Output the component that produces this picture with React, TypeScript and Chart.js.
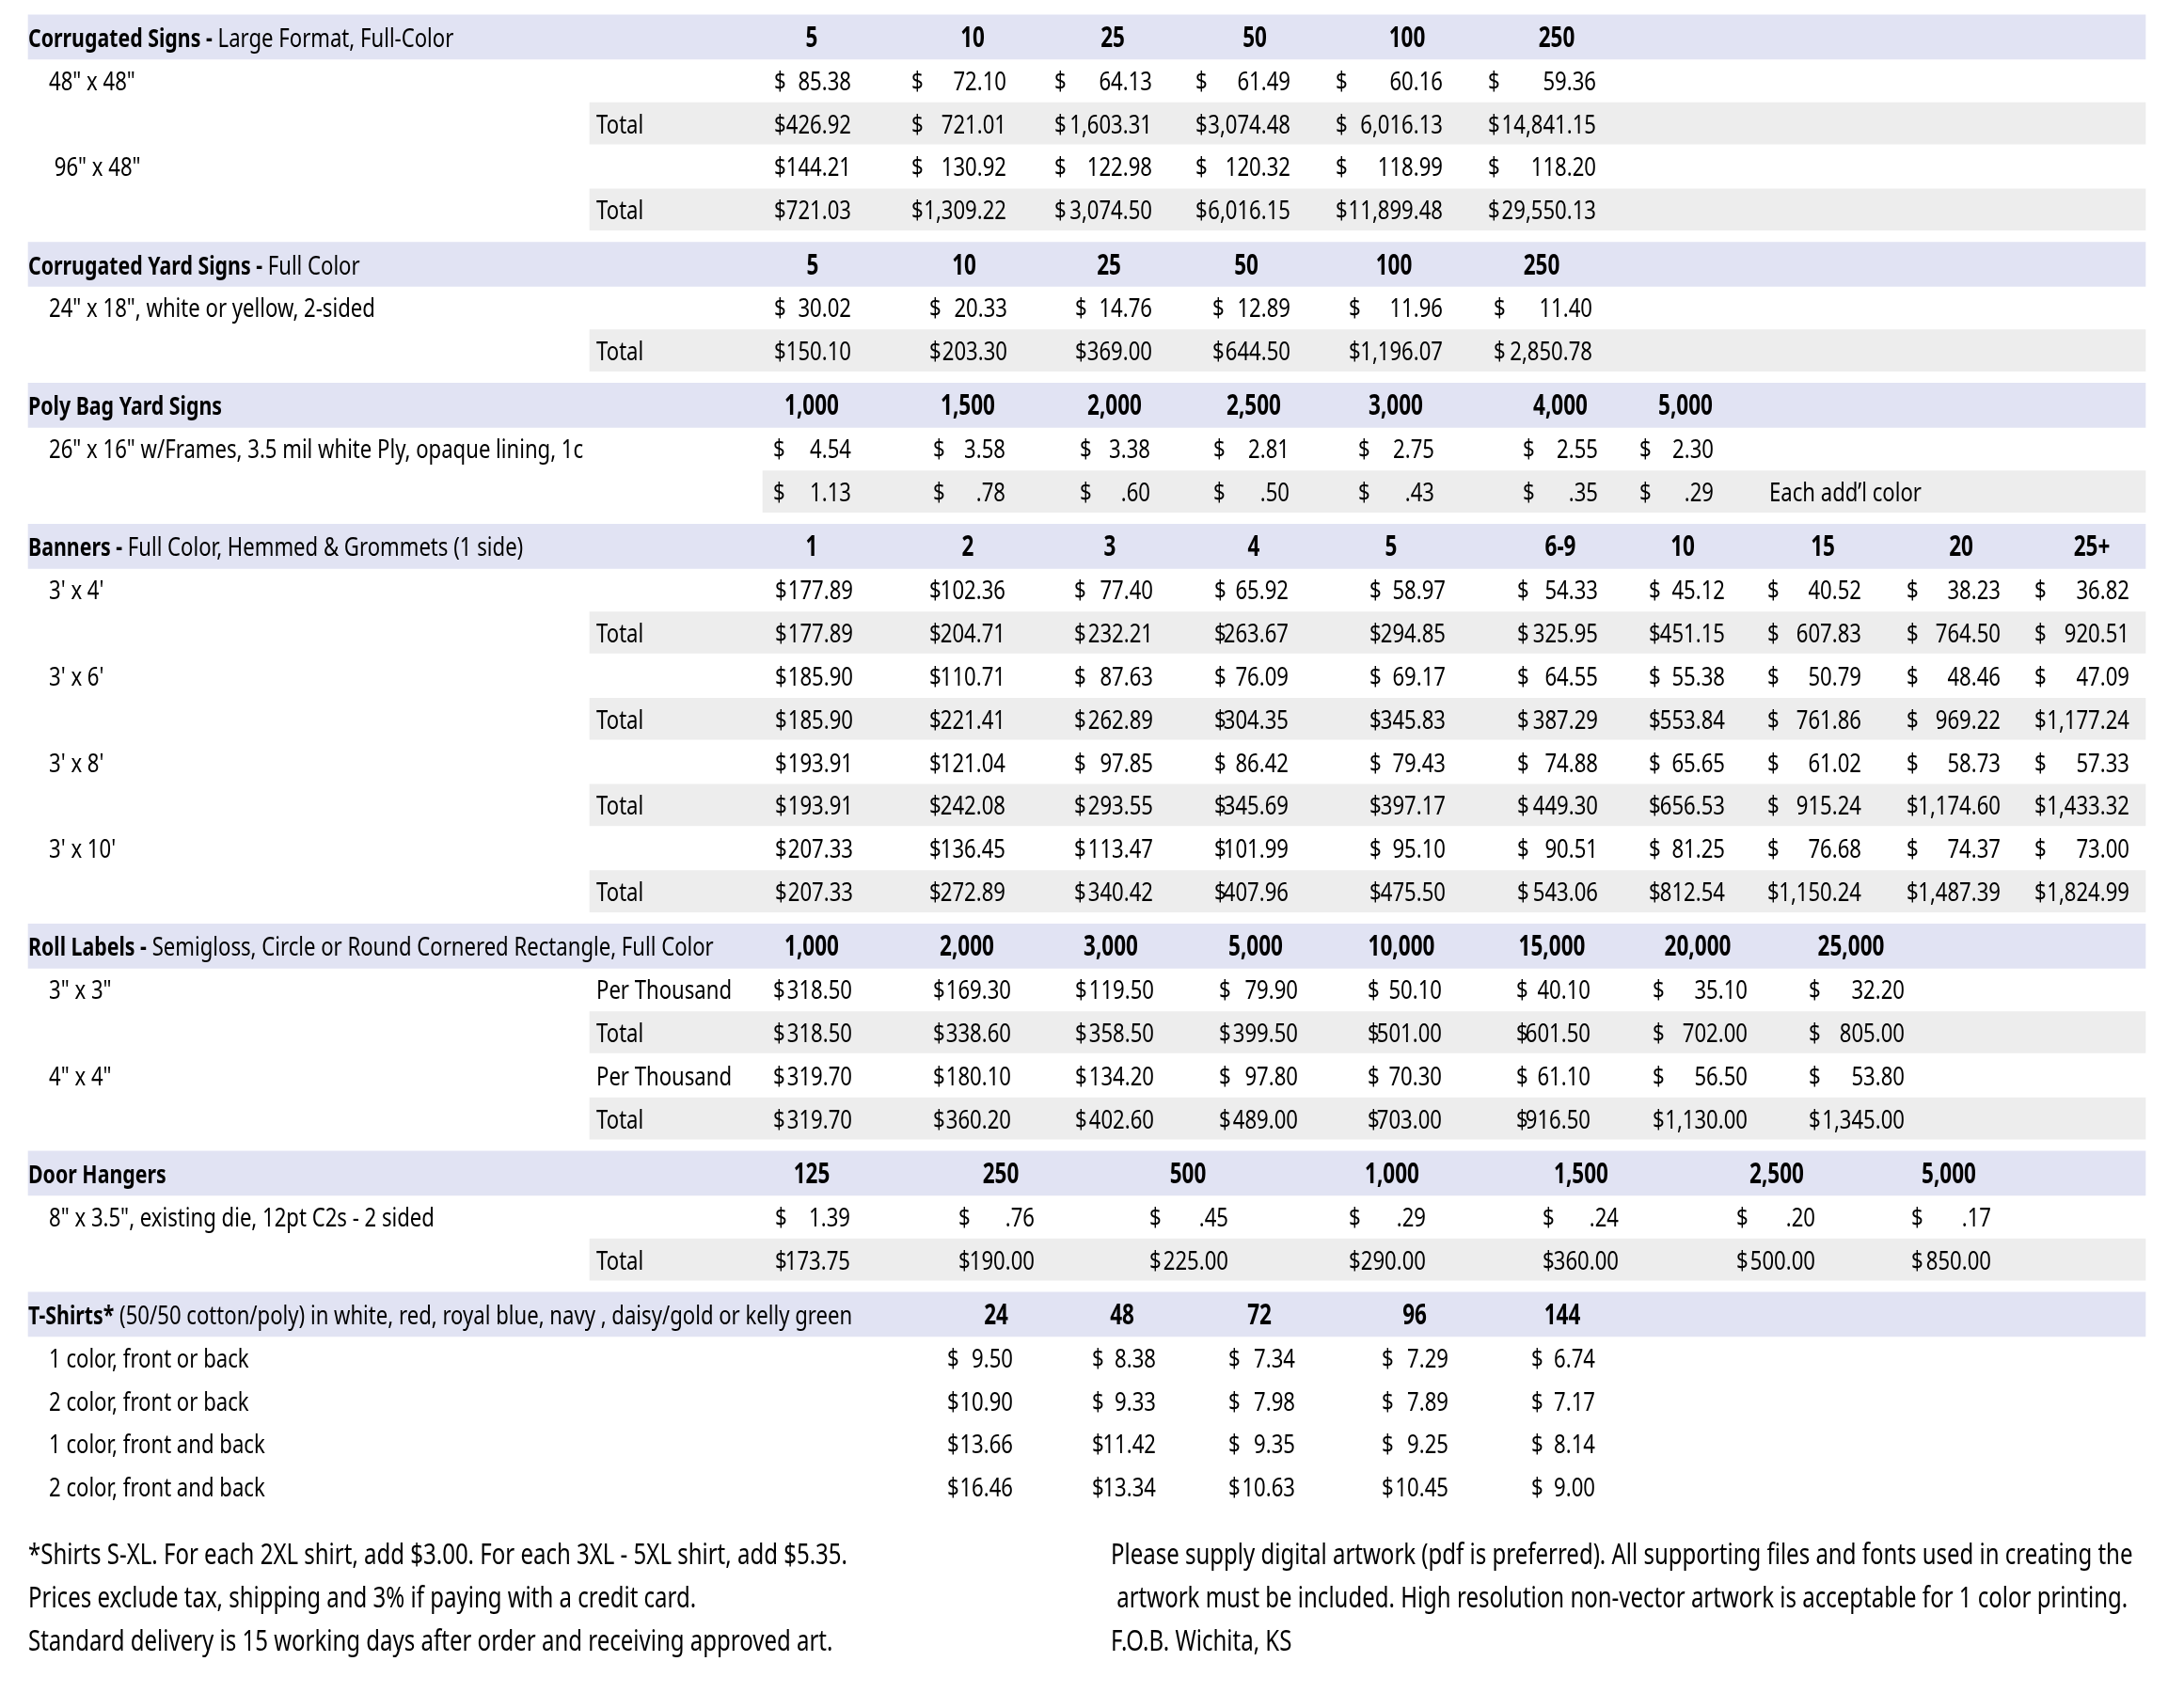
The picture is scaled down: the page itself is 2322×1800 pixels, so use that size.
import React, { useEffect, useRef } from "react";
import { Chart, registerables } from "chart.js";

Chart.register(...registerables);

// ------------------------------------------------------------------ DATA
const corrugatedTitle = ["Corrugated Signs -", " Large Format, Full-Color"];
const corrugatedQty = ["5", "10", "25", "50", "100", "250"];
const corrugated48Each = [85.38, 72.1, 64.13, 61.49, 60.16, 59.36];
const corrugated48Total = [426.92, 721.01, 1603.31, 3074.48, 6016.13, 14841.15];
const corrugated96Each = [144.21, 130.92, 122.98, 120.32, 118.99, 118.2];
const corrugated96Total = [721.03, 1309.22, 3074.5, 6016.15, 11899.48, 29550.13];

const yardTitle = ["Corrugated Yard Signs -", " Full Color"];
const yardQty = ["5", "10", "25", "50", "100", "250"];
const yardEach = [30.02, 20.33, 14.76, 12.89, 11.96, 11.4];
const yardTotal = [150.1, 203.3, 369.0, 644.5, 1196.07, 2850.78];

const polyTitle = ["Poly Bag Yard Signs", ""];
const polyQty = ["1,000", "1,500", "2,000", "2,500", "3,000", "4,000", "5,000"];
const polyEach = [4.54, 3.58, 3.38, 2.81, 2.75, 2.55, 2.3];
const polyAddColor = [1.13, 0.78, 0.6, 0.5, 0.43, 0.35, 0.29];

const bannerTitle = ["Banners -", " Full Color, Hemmed & Grommets (1 side)"];
const bannerQty = ["1", "2", "3", "4", "5", "6-9", "10", "15", "20", "25+"];
const banner3x4Each = [177.89, 102.36, 77.4, 65.92, 58.97, 54.33, 45.12, 40.52, 38.23, 36.82];
const banner3x4Total = [177.89, 204.71, 232.21, 263.67, 294.85, 325.95, 451.15, 607.83, 764.5, 920.51];
const banner3x6Each = [185.9, 110.71, 87.63, 76.09, 69.17, 64.55, 55.38, 50.79, 48.46, 47.09];
const banner3x6Total = [185.9, 221.41, 262.89, 304.35, 345.83, 387.29, 553.84, 761.86, 969.22, 1177.24];
const banner3x8Each = [193.91, 121.04, 97.85, 86.42, 79.43, 74.88, 65.65, 61.02, 58.73, 57.33];
const banner3x8Total = [193.91, 242.08, 293.55, 345.69, 397.17, 449.3, 656.53, 915.24, 1174.6, 1433.32];
const banner3x10Each = [207.33, 136.45, 113.47, 101.99, 95.1, 90.51, 81.25, 76.68, 74.37, 73.0];
const banner3x10Total = [207.33, 272.89, 340.42, 407.96, 475.5, 543.06, 812.54, 1150.24, 1487.39, 1824.99];

const rollTitle = ["Roll Labels -", " Semigloss, Circle or Round Cornered Rectangle, Full Color"];
const rollQty = ["1,000", "2,000", "3,000", "5,000", "10,000", "15,000", "20,000", "25,000"];
const roll3x3PerThousand = [318.5, 169.3, 119.5, 79.9, 50.1, 40.1, 35.1, 32.2];
const roll3x3Total = [318.5, 338.6, 358.5, 399.5, 501.0, 601.5, 702.0, 805.0];
const roll4x4PerThousand = [319.7, 180.1, 134.2, 97.8, 70.3, 61.1, 56.5, 53.8];
const roll4x4Total = [319.7, 360.2, 402.6, 489.0, 703.0, 916.5, 1130.0, 1345.0];

const doorTitle = ["Door Hangers", ""];
const doorQty = ["125", "250", "500", "1,000", "1,500", "2,500", "5,000"];
const doorEach = [1.39, 0.76, 0.45, 0.29, 0.24, 0.2, 0.17];
const doorTotal = [173.75, 190.0, 225.0, 290.0, 360.0, 500.0, 850.0];

const shirtTitle = ["T-Shirts*", " (50/50 cotton/poly) in white, red, royal blue, navy , daisy/gold or kelly green"];
const shirtQty = ["24", "48", "72", "96", "144"];
const shirt1ColorFrontOrBack = [9.5, 8.38, 7.34, 7.29, 6.74];
const shirt2ColorFrontOrBack = [10.9, 9.33, 7.98, 7.89, 7.17];
const shirt1ColorFrontAndBack = [13.66, 11.42, 9.35, 9.25, 8.14];
const shirt2ColorFrontAndBack = [16.46, 13.34, 10.63, 10.45, 9.0];

const footerLeft = [
  "*Shirts S-XL. For each 2XL shirt, add $3.00. For each 3XL - 5XL shirt, add $5.35.",
  "Prices exclude tax, shipping and 3% if paying with a credit card.",
  "Standard delivery is 15 working days after order and receiving approved art.",
];
const footerRight = [
  "Please supply digital artwork (pdf is preferred). All supporting files and fonts used in creating the",
  " artwork must be included. High resolution non-vector artwork is acceptable for 1 color printing.",
  "F.O.B. Wichita, KS",
];

// ------------------------------------------------------------------ LAYOUT
const W = 2322;
const H = 1800;
const TOP = 16.5; // top of first header band (px)
const ROW = 45.84; // row pitch (px)
const GAP = 12.4; // gap between sections (px)
const FOOTER_GAP = 0.577; // in rows
const SX = 0.79; // horizontal condensing of the type
const SX_QTY = 0.75;
const SX_FOOT = 0.8;
const FONT = "'Noto Sans', 'Open Sans', sans-serif";
const F_REG = `28px ${FONT}`;
const F_BOLD = `bold 27px ${FONT}`;
const F_QTY = `bold 30px ${FONT}`;
const F_FOOT = `30px ${FONT}`;
const BASE_OFF = 10.5;
const HEADER_BG = "#E1E3F3";
const TOTAL_BG = "#EDEDED";
const BAND_LEFT = 30;
const BAND_RIGHT = 2281;
const TOTAL_LEFT = 627;
const TITLE_X = 30;
const LABEL_X = 52;
const SUB_X = 634;
const FOOT_L_X = 30;
const FOOT_R_X = 1181;

// columns: [dollar x, right x, header centre x]
const COLS_CORR = [[823, 905, 863], [969, 1070, 1034], [1121, 1225, 1183], [1271, 1372, 1334], [1420, 1534, 1496], [1582, 1697, 1655]];
const COLS_YARD = [[823, 905, 864], [988, 1071, 1025], [1143, 1225, 1179], [1289, 1372, 1325], [1434, 1534, 1482], [1588, 1693, 1639]];
const COLS_POLY = [[822, 905, 863], [992, 1069, 1029], [1148, 1223, 1185], [1290, 1371, 1333], [1444, 1525, 1484], [1619, 1699, 1659], [1743, 1822, 1792]];
const COLS_BANNER = [[824, 907, 863], [988, 1069, 1029], [1142, 1226, 1180], [1291, 1370, 1333], [1456, 1537, 1479], [1613, 1699, 1659], [1753, 1834, 1789], [1879, 1979, 1938], [2027, 2127, 2085], [2163, 2264, 2224]];
const COLS_ROLL = [[822, 906, 863], [992, 1075, 1028], [1143, 1227, 1181], [1296, 1380, 1335], [1454, 1533, 1490], [1612, 1691, 1650], [1757, 1858, 1805], [1923, 2025, 1968]];
const COLS_DOOR = [[824, 904, 863], [1019, 1100, 1064], [1222, 1306, 1263], [1434, 1516, 1480], [1640, 1721, 1681], [1846, 1930, 1889], [2032, 2117, 2072]];
const COLS_SHIRT = [[1007, 1077, 1059], [1161, 1229, 1193], [1306, 1377, 1339], [1469, 1540, 1504], [1628, 1696, 1661]];
const NOTE_X = 1881;
const POLY_BAND_LEFT = 811;

type Row = { label?: string; sub?: string; values: number[]; band?: "total" | "value"; note?: string };
type Section = { title: string[]; qty: string[]; cols: number[][]; rows: Row[] };

const sections: Section[] = [
  {
    title: corrugatedTitle, qty: corrugatedQty, cols: COLS_CORR,
    rows: [
      { label: '48" x 48"', values: corrugated48Each },
      { sub: "Total", values: corrugated48Total, band: "total" },
      { label: ' 96" x 48"', values: corrugated96Each },
      { sub: "Total", values: corrugated96Total, band: "total" },
    ],
  },
  {
    title: yardTitle, qty: yardQty, cols: COLS_YARD,
    rows: [
      { label: '24" x 18", white or yellow, 2-sided', values: yardEach },
      { sub: "Total", values: yardTotal, band: "total" },
    ],
  },
  {
    title: polyTitle, qty: polyQty, cols: COLS_POLY,
    rows: [
      { label: '26" x 16" w/Frames, 3.5 mil white Ply, opaque lining, 1c', values: polyEach },
      { values: polyAddColor, band: "value", note: "Each add\u2019l color" },
    ],
  },
  {
    title: bannerTitle, qty: bannerQty, cols: COLS_BANNER,
    rows: [
      { label: "3' x 4'", values: banner3x4Each },
      { sub: "Total", values: banner3x4Total, band: "total" },
      { label: "3' x 6'", values: banner3x6Each },
      { sub: "Total", values: banner3x6Total, band: "total" },
      { label: "3' x 8'", values: banner3x8Each },
      { sub: "Total", values: banner3x8Total, band: "total" },
      { label: "3' x 10'", values: banner3x10Each },
      { sub: "Total", values: banner3x10Total, band: "total" },
    ],
  },
  {
    title: rollTitle, qty: rollQty, cols: COLS_ROLL,
    rows: [
      { label: '3" x 3"', sub: "Per Thousand", values: roll3x3PerThousand },
      { sub: "Total", values: roll3x3Total, band: "total" },
      { label: '4" x 4"', sub: "Per Thousand", values: roll4x4PerThousand },
      { sub: "Total", values: roll4x4Total, band: "total" },
    ],
  },
  {
    title: doorTitle, qty: doorQty, cols: COLS_DOOR,
    rows: [
      { label: '8" x 3.5", existing die, 12pt C2s - 2 sided', values: doorEach },
      { sub: "Total", values: doorTotal, band: "total" },
    ],
  },
  {
    title: shirtTitle, qty: shirtQty, cols: COLS_SHIRT,
    rows: [
      { label: "1 color, front or back", values: shirt1ColorFrontOrBack },
      { label: "2 color, front or back", values: shirt2ColorFrontOrBack },
      { label: "1 color, front and back", values: shirt1ColorFrontAndBack },
      { label: "2 color, front and back", values: shirt2ColorFrontAndBack },
    ],
  },
];

// row index -> value on the y scale (one unit per table row)
const GU = GAP / ROW;
type Placed = { v: number; kind: "header" | "row"; s: Section; row?: Row };
const placed: Placed[] = [];
let rowCount = 0;
sections.forEach((s, si) => {
  placed.push({ v: rowCount + 0.5 + si * GU, kind: "header", s });
  rowCount++;
  s.rows.forEach((r) => {
    placed.push({ v: rowCount + 0.5 + si * GU, kind: "row", s, row: r });
    rowCount++;
  });
});
const TABLE_END = rowCount + (sections.length - 1) * GU;
const footerV = (i: number) => TABLE_END + FOOTER_GAP + i + 0.5;

const headerBands = placed.filter((p) => p.kind === "header").map((p) => ({ y: p.v, x: [BAND_LEFT, BAND_RIGHT] }));
const totalBands = placed
  .filter((p) => p.kind === "row" && p.row!.band)
  .map((p) => ({ y: p.v, x: [p.row!.band === "total" ? TOTAL_LEFT : POLY_BAND_LEFT, BAND_RIGHT] }));

function fmt(v: number): string {
  const s = v.toLocaleString("en-US", { minimumFractionDigits: 2, maximumFractionDigits: 2 });
  return v < 1 ? s.replace(/^0/, "") : s;
}

function drawStr(ctx: CanvasRenderingContext2D, str: string, x: number, y: number, align: CanvasTextAlign, font: string, sx: number = SX): number {
  ctx.save();
  ctx.font = font;
  ctx.translate(x, y + BASE_OFF);
  ctx.scale(sx, 1);
  ctx.textAlign = align;
  ctx.textBaseline = "alphabetic";
  ctx.fillStyle = "#000";
  ctx.fillText(str, 0, 0);
  const w = ctx.measureText(str).width * sx;
  ctx.restore();
  return w;
}

const tablePlugin = {
  id: "tableText",
  afterDatasetsDraw(chart: any) {
    const ctx: CanvasRenderingContext2D = chart.ctx;
    const xs = chart.scales.x;
    const ys = chart.scales.y;
    const X = (v: number) => xs.getPixelForValue(v);
    placed.forEach((p) => {
      const y = ys.getPixelForValue(p.v);
      const cols = p.s.cols;
      if (p.kind === "header") {
        const w = drawStr(ctx, p.s.title[0], X(TITLE_X), y, "left", F_BOLD);
        if (p.s.title[1]) drawStr(ctx, p.s.title[1], X(TITLE_X) + w, y, "left", F_REG);
        p.s.qty.forEach((q, i) => drawStr(ctx, q, X(cols[i][2]), y, "center", F_QTY, SX_QTY));
      } else {
        const r = p.row!;
        if (r.label) drawStr(ctx, r.label, X(LABEL_X), y, "left", F_REG);
        if (r.sub) drawStr(ctx, r.sub, X(SUB_X), y, "left", F_REG);
        r.values.forEach((v, i) => {
          drawStr(ctx, "$", X(cols[i][0]), y, "left", F_REG);
          drawStr(ctx, fmt(v), X(cols[i][1]), y, "right", F_REG);
        });
        if (r.note) drawStr(ctx, r.note, X(NOTE_X), y, "left", F_REG);
      }
    });
    footerLeft.forEach((t, i) => drawStr(ctx, t, X(FOOT_L_X), ys.getPixelForValue(footerV(i)), "left", F_FOOT, SX_FOOT));
    footerRight.forEach((t, i) => drawStr(ctx, t, X(FOOT_R_X), ys.getPixelForValue(footerV(i)), "left", F_FOOT, SX_FOOT));
  },
};

export default function App() {
  const ref = useRef<HTMLCanvasElement | null>(null);
  useEffect(() => {
    document.body.style.margin = "0";
    document.body.style.overflow = "hidden";
    const canvas = ref.current!;
    const chart = new Chart(canvas, {
      type: "bar",
      data: {
        datasets: [
          { label: "header", data: headerBands as any, backgroundColor: HEADER_BG, barThickness: 47, grouped: false, borderWidth: 0 } as any,
          { label: "total", data: totalBands as any, backgroundColor: TOTAL_BG, barThickness: 44, grouped: false, borderWidth: 0 } as any,
        ],
      },
      options: {
        indexAxis: "y",
        animation: false,
        responsive: false,
        devicePixelRatio: 1,
        events: [],
        layout: { padding: 0 },
        scales: {
          x: { type: "linear", min: 0, max: W, display: false, offset: false },
          y: { type: "linear", min: -TOP / ROW, max: (H - TOP) / ROW, reverse: true, display: false, offset: false },
        },
        plugins: { legend: { display: false }, tooltip: { enabled: false } },
      },
      plugins: [tablePlugin],
    });
    return () => chart.destroy();
  }, []);
  return (
    <div style={{ width: W, height: H, position: "relative", background: "#fff" }}>
      <canvas ref={ref} width={W} height={H} style={{ display: "block", width: W, height: H }} />
    </div>
  );
}
